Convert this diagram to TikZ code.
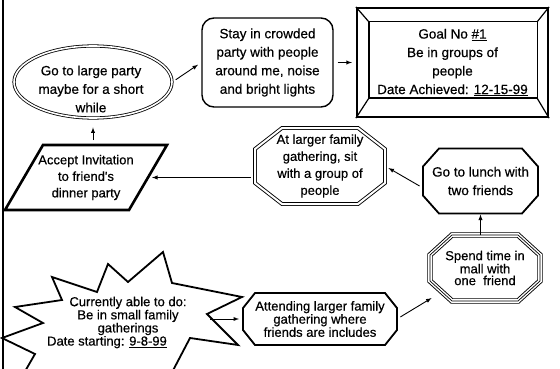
\documentclass[tikz,border=0pt]{standalone}
\usepackage{fontspec}
\setmainfont{Liberation Sans}[FakeBold=0.5]
\newfontfamily\heavy{Liberation Sans}[FakeBold=0.5]
\usetikzlibrary{shapes.geometric}
\tikzset{
	big/.style={font=\heavy\fontsize{13.5}{18.5}\selectfont, align=center},
	small/.style={font=\heavy\fontsize{13}{11.8}\selectfont, align=center},
	box/.style={rectangle, inner sep=0pt, outer sep=0pt},
	link/.style={->, >=latex, line width=0.9pt, shorten <=4pt, shorten >=4pt}
}
% octagon round a box node: options, node, x cut, y cut
\newcommand\octoline[4][]{%
	\draw[line width=1.8pt, #1] ([xshift=#3]#2.north west) -- ([xshift=-#3]#2.north east)
		-- ([yshift=-#4]#2.north east) -- ([yshift=#4]#2.south east)
		-- ([xshift=-#3]#2.south east) -- ([xshift=#3]#2.south west)
		-- ([yshift=#4]#2.south west) -- ([yshift=-#4]#2.north west) -- cycle;}
\begin{document}
\begin{tikzpicture}[x=1pt,y=-1pt]
\useasboundingbox (0,0) rectangle (560,369);
\draw[line width=2.5pt] (3,0) -- (3,369);

\node[ellipse, draw, double, double distance=1.6pt, line width=0.8pt,
	minimum width=158pt, minimum height=72pt] (partyell) at (93,82) {};
\node[big] (party) at (91,89) {Go to large party\\maybe for a short\\while};

\node[draw, rounded corners=12pt, line width=1.4pt, minimum width=131pt,
	minimum height=89pt, big] (stay) at (267.5,62.5)
	{Stay in crowded\\party with people\\around me, noise\\and bright lights};

\node[draw, line width=2.2pt, minimum width=191pt, minimum height=109pt, big]
	(goal) at (452.5,62.5)
	{Goal No \underline{\#1}\\Be in groups of\\people\\Date Achieved: \underline{12-15-99}};
\coordinate (gin1) at ([xshift=13pt,yshift=-15pt]goal.north west);
\coordinate (gin2) at ([xshift=-12pt,yshift=20pt]goal.south east);
\draw[line width=1.2pt] (gin1) rectangle (gin2);
\draw[line width=1.2pt] (goal.north west) -- (gin1) (goal.south east) -- (gin2)
	(goal.north east) -- (gin1 -| gin2) (goal.south west) -- (gin1 |- gin2);

\node[box, minimum width=124pt, minimum height=65pt,
	font=\heavy\fontsize{13}{16.5}\selectfont, align=center] (accept) at (86,177.5)
	{Accept Invitation\\to friend's\\dinner party};
\draw[line width=2.6pt] ([xshift=19pt]accept.north west) -- ([xshift=19pt]accept.north east)
	-- ([xshift=-19pt]accept.south east) -- ([xshift=-19pt]accept.south west) -- cycle;

\node[box, minimum width=130pt, minimum height=76pt,
	font=\heavy\fontsize{13}{17}\selectfont, align=center] (family) at (320,166)
	{At larger family\\gathering, sit\\with a group of\\people};
\octoline[double, double distance=2pt, line width=0.9pt]{family}{27pt}{21pt}

\node[box, minimum width=115pt, minimum height=65pt, big] (lunch) at (480.5,181)
	{Go to lunch with\\two friends};
\octoline{lunch}{16pt}{18pt}

\node[box, minimum width=110pt, minimum height=66pt, small] (spend) at (485,268)
	{Spend time in\\mall with\\one\ \ friend};
\octoline[double, double distance=3.6pt, line width=0.9pt]{spend}{22pt}{20pt}
\octoline[line width=0.7pt]{spend}{22pt}{20pt}

\node[box, minimum width=154pt, minimum height=52pt, small] (attend) at (320,319)
	{Attending larger family\\gathering where\\friends are includes};
\octoline{attend}{12pt}{15pt}

% starburst
\draw[line width=1.8pt, line join=miter] (108,264) -- (128,282) -- (163,252) -- (172,283)
	-- (242,297) -- (207,314) -- (238,345) -- (190,338) -- (168,380) -- (20,380)
	-- (35,354) -- (2,338) -- (43,323) -- (15,307) -- (62,300) -- (52,277)
	-- (97,292) -- cycle;
\node[small] (star) at (128,322.5) {Currently able to do:\\Be in small family\\
	gatherings\hspace*{42pt}\\Date starting: \underline{9-8-99}\hspace*{42pt}};

\draw[link, shorten <=5pt, shorten >=9pt] (partyell.south |- accept.north) -- (partyell.south);
\draw[link] (partyell.east) -- (stay.west);
\draw[link] (stay.east) -- (goal.west);
\draw[link] (family.west |- accept.east) -- (accept.east);
\draw[link] ([yshift=-7pt]lunch.west) -- (family.east);
\draw[link, shorten <=0pt, shorten >=1pt] (lunch.south |- spend.north) -- (lunch.south);
\draw[link] (attend.east) -- ([xshift=5pt,yshift=5pt]spend.south west);
\draw[link, shorten <=-2pt] (star.east |- attend.west) -- (attend.west);
\end{tikzpicture}
\end{document}
